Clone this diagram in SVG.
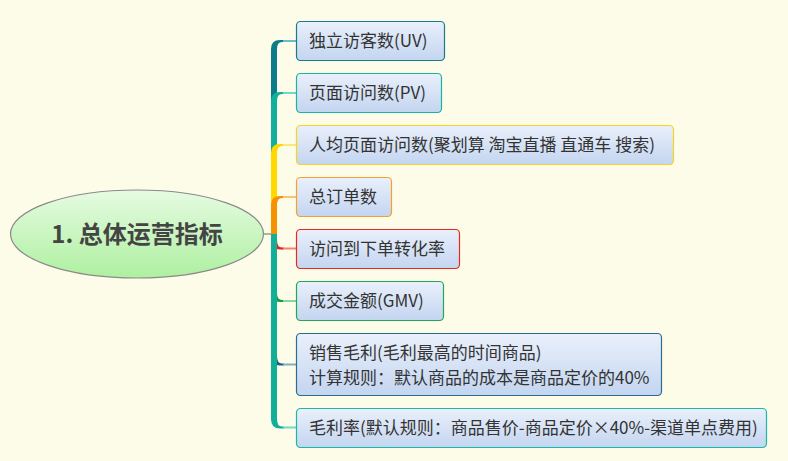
<svg xmlns="http://www.w3.org/2000/svg" width="788" height="461" viewBox="0 0 788 461">
<defs>
<linearGradient id="box" x1="0" y1="0" x2="0" y2="1">
<stop offset="0" stop-color="#eaf0fb"/>
<stop offset="1" stop-color="#c3d5f0"/>
</linearGradient>
<linearGradient id="ell" x1="0" y1="0" x2="0" y2="1">
<stop offset="0" stop-color="#e6fbe2"/>
<stop offset="1" stop-color="#aef0a0"/>
</linearGradient>
<style>
.b{fill:url(#box);stroke-width:1.2}
.t{font-family:"Noto Sans CJK SC","Microsoft YaHei",sans-serif;font-size:17px;fill:#333}
.r{font-family:"Noto Sans CJK SC","Microsoft YaHei",sans-serif;font-size:24px;font-weight:bold;fill:#444}
.h{stroke-width:2;fill:none}
</style>
</defs>
<rect width="788" height="461" fill="#fdfce9"/>
<g id="connectors">
<line x1="263" y1="234" x2="272" y2="234" stroke="#808080" stroke-width="1.2"/>
<rect x="271" y="49" width="6" height="185" fill="#0c7b8b"/>
<path d="M271,49 Q271,40 280,40 L284,40 L284,42 L282,42 Q277,42 277,49 Z" fill="#0c7b8b"/>
<line class="h" x1="283" y1="41" x2="296" y2="41" stroke="#6bbcc4"/>
<rect x="271" y="101" width="6" height="133" fill="#12b09c"/>
<path d="M271,101 Q271,92 280,92 L284,92 L284,94 L282,94 Q277,94 277,101 Z" fill="#12b09c"/>
<line class="h" x1="283" y1="93" x2="296" y2="93" stroke="#72d8c8"/>
<rect x="271" y="153" width="6" height="81" fill="#ffd800"/>
<path d="M271,153 Q271,144 280,144 L284,144 L284,146 L282,146 Q277,146 277,153 Z" fill="#ffd800"/>
<line class="h" x1="283" y1="145" x2="296" y2="145" stroke="#fde77a"/>
<rect x="271" y="205" width="6" height="29" fill="#f59200"/>
<path d="M271,205 Q271,196 280,196 L284,196 L284,198 L282,198 Q277,198 277,205 Z" fill="#f59200"/>
<line class="h" x1="283" y1="197" x2="296" y2="197" stroke="#fac274"/>
<path d="M271,240 Q271,249.5 280,249.5 L284,249.5 L284,247.5 L282,247.5 Q277,247.5 277,240 Z" fill="#e82020"/>
<line class="h" x1="283" y1="248.5" x2="296" y2="248.5" stroke="#f88270"/>
<path d="M271,293 Q271,302 280,302 L284,302 L284,300 L282,300 Q277,300 277,293 Z" fill="#10a040"/>
<line class="h" x1="283" y1="301" x2="296" y2="301" stroke="#80d8a0"/>
<path d="M271,356 Q271,365.5 280,365.5 L284,365.5 L284,363.5 L282,363.5 Q277,363.5 277,356 Z" fill="#1a5e8a"/>
<line class="h" x1="283" y1="364.5" x2="296" y2="364.5" stroke="#7ab2c2"/>
<rect x="271" y="234" width="6" height="186" fill="#12ae98"/>
<path d="M271,419 Q271,428.5 280,428.5 L284,428.5 L284,426.5 L282,426.5 Q277,426.5 277,419 Z" fill="#12ae98"/>
<line class="h" x1="283" y1="427.5" x2="296" y2="427.5" stroke="#72d8c8"/>
</g>
<g id="root">
<ellipse cx="137" cy="234" rx="126.5" ry="44" fill="url(#ell)" stroke="#8a8a8a" stroke-width="1.2"/>
<text class="r" x="137" y="243" text-anchor="middle">1. 总体运营指标</text>
</g>
<g id="n1"><rect class="b" x="296.5" y="21.5" width="148" height="39" rx="4" stroke="#1a7a8c"/><text class="t" x="309" y="47">独立访客数(UV)</text></g>
<g id="n2"><rect class="b" x="296.5" y="73.5" width="145" height="39" rx="4" stroke="#18b4a4"/><text class="t" x="309" y="99">页面访问数(PV)</text></g>
<g id="n3"><rect class="b" x="296.5" y="125.5" width="377" height="39" rx="4" stroke="#f6d420"/><text class="t" x="309" y="151">人均页面访问数(聚划算 淘宝直播 直通车 搜索)</text></g>
<g id="n4"><rect class="b" x="296.5" y="177.5" width="95" height="39" rx="4" stroke="#f6a030"/><text class="t" x="309" y="203">总订单数</text></g>
<g id="n5"><rect class="b" x="296.5" y="229.5" width="163" height="39" rx="4" stroke="#e8281c"/><text class="t" x="309" y="255">访问到下单转化率</text></g>
<g id="n6"><rect class="b" x="296.5" y="281.5" width="147" height="39" rx="4" stroke="#20a858"/><text class="t" x="309" y="307">成交金额(GMV)</text></g>
<g id="n7"><rect class="b" x="296.5" y="333.5" width="365" height="62" rx="4" stroke="#286e90"/><text class="t" x="309" y="358.5">销售毛利(毛利最高的时间商品)</text><text class="t" x="309" y="383.5">计算规则：默认商品的成本是商品定价的40%</text></g>
<g id="n8"><rect class="b" x="296.5" y="408.5" width="470" height="39" rx="4" stroke="#1ab8a8"/><text class="t" x="309" y="434">毛利率(默认规则：商品售价-商品定价×40%-渠道单点费用)</text></g>
</svg>
